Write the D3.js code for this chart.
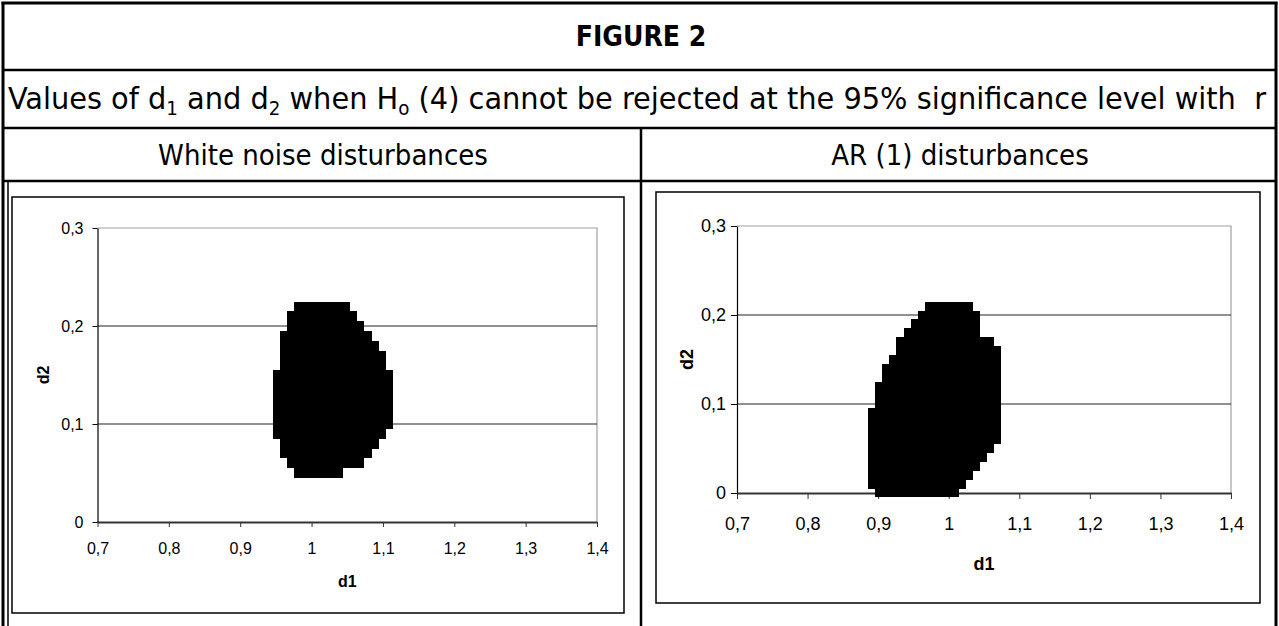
<!DOCTYPE html>
<html>
<head>
<meta charset="utf-8">
<script src="https://cdn.jsdelivr.net/npm/d3@7/dist/d3.min.js"></script>
<style>
  body { margin: 0; background: #fff; }
  svg { display: block; }
</style>
</head>
<body>
<svg id="fig" width="1279" height="626"></svg>
<script>
// ticks shared by both panels
const xTicks = [0.7, 0.8, 0.9, 1.0, 1.1, 1.2, 1.3, 1.4]
const yTicks = [0, 0.1, 0.2, 0.3]
const gridValues = [0.1, 0.2]

// texts
const figureTitle = "FIGURE 2"
const panelTitles = ["White noise disturbances", "AR (1) disturbances"]
const xLabel = "d1"
const yLabel = "d2"

// white noise panel: one row of grid points per d2, from d1 min to d1 max
const whiteD2 = [0.22, 0.21, 0.20, 0.19, 0.18, 0.17, 0.16, 0.15, 0.14, 0.13, 0.12, 0.11, 0.10, 0.09, 0.08, 0.07, 0.06, 0.05]
const whiteD1Min = [0.98, 0.97, 0.97, 0.96, 0.96, 0.96, 0.96, 0.95, 0.95, 0.95, 0.95, 0.95, 0.95, 0.95, 0.96, 0.96, 0.97, 0.98]
const whiteD1Max = [1.05, 1.06, 1.07, 1.08, 1.09, 1.10, 1.10, 1.11, 1.11, 1.11, 1.11, 1.11, 1.11, 1.10, 1.09, 1.08, 1.07, 1.04]

// AR(1) panel
const arD2 = [0.21, 0.20, 0.19, 0.18, 0.17, 0.16, 0.15, 0.14, 0.13, 0.12, 0.11, 0.10, 0.09, 0.08, 0.07, 0.06, 0.05, 0.04, 0.03, 0.02, 0.01, 0.00]
const arD1Min = [0.97, 0.96, 0.95, 0.94, 0.93, 0.93, 0.92, 0.91, 0.91, 0.90, 0.90, 0.90, 0.89, 0.89, 0.89, 0.89, 0.89, 0.89, 0.89, 0.89, 0.89, 0.90]
const arD1Max = [1.03, 1.04, 1.04, 1.04, 1.06, 1.07, 1.07, 1.07, 1.07, 1.07, 1.07, 1.07, 1.07, 1.07, 1.07, 1.07, 1.06, 1.05, 1.04, 1.03, 1.02, 1.01]

const comma = d3.formatLocale({ decimal: ",", thousands: ".", grouping: [3], currency: ["", ""] }).format(".1~f")
const tableFont = "'DejaVu Sans Condensed', 'DejaVu Sans', Tahoma, sans-serif"
const chartFont = "'Liberation Sans', Arial, sans-serif"

const svg = d3.select("#fig")

let drawTable = () => {
    const H = 626
    const left = 3, right = 1276

    //frame lines
    const lines = [
        [left - 1.5, 3, right + 1.5, 3, 3],
        [left, 2, left, H, 3],
        [right, 2, right, H, 3],
        [left, 70, right, 70, 2.5],
        [left, 128, right, 128, 2.5],
        [left, 181, right, 181, 2.5],
        [641, 128, 641, H, 2.5],
        [8, 181, 8, H, 1.5]
    ]
    svg.append("g").selectAll("line")
        .data(lines)
        .join("line")
        .attr("x1", d => d[0]).attr("y1", d => d[1])
        .attr("x2", d => d[2]).attr("y2", d => d[3])
        .attr("stroke", "#000")
        .attr("stroke-width", d => d[4])

    svg.append("text")
        .attr("x", 641).attr("y", 46)
        .attr("text-anchor", "middle")
        .attr("font-family", tableFont)
        .attr("font-weight", "bold")
        .attr("font-size", 28)
        .text(figureTitle)

    //subtitle with subscripts
    const sub = svg.append("text")
        .attr("x", 8).attr("y", 109)
        .attr("font-family", tableFont)
        .attr("font-size", 30)
        .attr("textLength", 1258)
        .attr("lengthAdjust", "spacingAndGlyphs")
        .style("white-space", "pre")
    const parts = [
        ["Values of d", 0], ["1", 1], [" and d", 0], ["2", 1], [" when H", 0], ["o", 1],
        [" (4) cannot be rejected at the 95% significance level with  r", 0]
    ]
    let shifted = 0
    parts.forEach(p => {
        const dy = p[1] ? 6 - shifted : -shifted
        shifted = p[1] ? 6 : 0
        sub.append("tspan")
            .attr("dy", dy)
            .attr("font-size", p[1] ? 19 : 30)
            .text(p[0])
    })

    svg.selectAll("text.head")
        .data(panelTitles)
        .join("text")
        .attr("class", "head")
        .attr("x", (d, i) => i === 0 ? 323 : 960)
        .attr("y", 165)
        .attr("text-anchor", "middle")
        .attr("font-family", tableFont)
        .attr("font-size", 29)
        .text(d => d)
}

let drawChart = (cfg, d2s, lo, hi) => {
    const g = svg.append("g")
    const { box, plot } = cfg

    g.append("rect")
        .attr("x", box.x).attr("y", box.y)
        .attr("width", box.w).attr("height", box.h)
        .attr("fill", "#fff")
        .attr("stroke", "#000")
        .attr("stroke-width", 1.5)

    const x = d3.scaleLinear().domain([0.7, 1.4]).range([plot.x0, plot.x1])
    const y = d3.scaleLinear().domain([0, 0.3]).range([plot.y0, plot.y1])

    //gray top and right border of plot area
    g.append("path")
        .attr("d", `M${x(0.7)},${y(0.3)}H${x(1.4)}V${y(0)}`)
        .attr("fill", "none")
        .attr("stroke", "#a0a0a0")
        .attr("stroke-width", 1.2)

    g.selectAll("line.grid")
        .data(gridValues)
        .join("line")
        .attr("class", "grid")
        .attr("x1", x(0.7)).attr("x2", x(1.4))
        .attr("y1", d => y(d)).attr("y2", d => y(d))
        .attr("stroke", "#222")
        .attr("stroke-width", 1)

    //XAxis
    const xa = g.append("g")
        .attr("transform", "translate(0," + y(0) + ")")
        .call(d3.axisBottom(x).tickValues(xTicks).tickFormat(comma)
            .tickSize(cfg.tick).tickSizeOuter(0).tickPadding(cfg.xPad))
    xa.select(".domain").attr("stroke", "#333").attr("stroke-width", 2)
    xa.selectAll(".tick line").attr("stroke", "#333")

    //YAxis
    const ya = g.append("g")
        .attr("transform", "translate(" + x(0.7) + ",0)")
        .call(d3.axisLeft(y).tickValues(yTicks).tickFormat(comma)
            .tickSize(cfg.tick).tickSizeOuter(0).tickPadding(cfg.yPad))
    ya.select(".domain").attr("stroke", "#000").attr("stroke-width", 1.2)
    ya.selectAll(".tick line").attr("stroke", "#000")

    g.selectAll(".tick text")
        .attr("font-family", chartFont)
        .attr("font-size", cfg.font)
        .attr("fill", "#000")

    //region where H0 is not rejected
    const hw = 0.004, hh = 0.005
    g.selectAll("rect.cell")
        .data(d2s)
        .join("rect")
        .attr("class", "cell")
        .attr("x", (d, i) => x(lo[i] - hw))
        .attr("width", (d, i) => x(hi[i] + hw) - x(lo[i] - hw))
        .attr("y", d => y(d + hh))
        .attr("height", d => y(d - hh) - y(d + hh))
        .attr("fill", "#000")
        .attr("shape-rendering", "crispEdges")

    g.append("text")
        .attr("x", (plot.x0 + plot.x1) / 2)
        .attr("y", cfg.xLabelY)
        .attr("text-anchor", "middle")
        .attr("font-family", chartFont)
        .attr("font-weight", "bold")
        .attr("font-size", cfg.font)
        .text(xLabel)

    g.append("text")
        .attr("transform", `translate(${cfg.yLabelX},${(plot.y0 + plot.y1) / 2}) rotate(-90)`)
        .attr("text-anchor", "middle")
        .attr("font-family", chartFont)
        .attr("font-weight", "bold")
        .attr("font-size", cfg.font)
        .text(yLabel)
}

drawTable()

drawChart({
    box: { x: 12, y: 197, w: 612, h: 416 },
    plot: { x0: 97.5, x1: 597, y0: 522, y1: 228 },
    tick: 5, xPad: 16, yPad: 9, font: 16,
    xLabelY: 587, yLabelX: 49
}, whiteD2, whiteD1Min, whiteD1Max)

drawChart({
    box: { x: 656, y: 192, w: 604, h: 411 },
    plot: { x0: 737, x1: 1231, y0: 493, y1: 226 },
    tick: 6, xPad: 18, yPad: 5, font: 18,
    xLabelY: 570, yLabelX: 693
}, arD2, arD1Min, arD1Max)
</script>
</body>
</html>
